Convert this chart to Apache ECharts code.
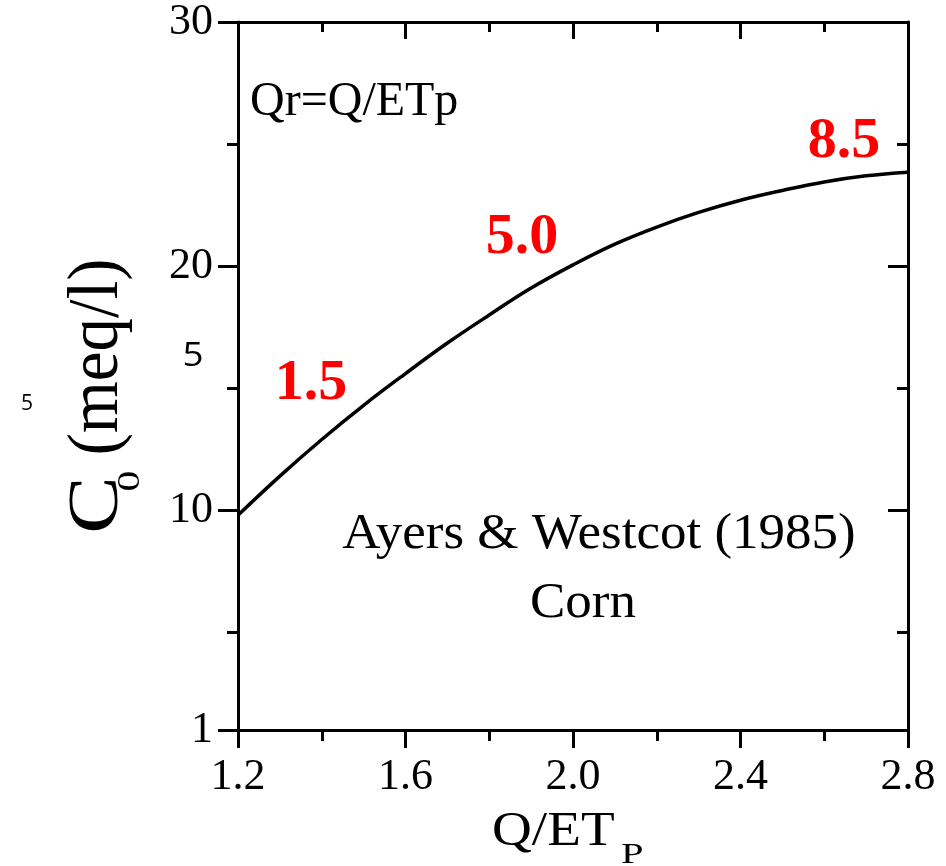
<!DOCTYPE html>
<html>
<head>
<meta charset="utf-8">
<script src="https://cdn.jsdelivr.net/npm/echarts@6/dist/echarts.min.js"></script>
<style>
html,body{margin:0;padding:0;background:#fff;}
#chart{width:946px;height:866px;}
</style>
</head>
<body>
<div id="chart"></div>
<script>
// Data
const qRatio = [1.2, 1.3, 1.4, 1.5, 1.6, 1.7, 1.8, 1.9, 2.0, 2.1, 2.2, 2.3, 2.4, 2.5, 2.6, 2.7, 2.8];
const c0Values = [9.8, 11.4, 12.9, 14.3, 15.6, 16.85, 18.0, 19.1, 20.05, 20.9, 21.6, 22.2, 22.7, 23.1, 23.45, 23.7, 23.85];
const xTickLabels = [1.2, 1.6, 2.0, 2.4, 2.8];
const yTickLabels = [1, 10, 20, 30];
const yMinorTicks = [5, 15, 25];
const curveLabels = ['1.5', '5.0', '8.5'];

const SERIF = "'Liberation Serif', 'Times New Roman', serif";
const SANS = "'Open Sans', 'Noto Sans', sans-serif";
const black = '#000';
const axisLine = {show: true, lineStyle: {color: black, width: 3}};

const chart = echarts.init(document.getElementById('chart'));

const xBase = {
  type: 'value', min: 1.2, max: 2.8, interval: 0.4,
  splitLine: {show: false}, minorSplitLine: {show: false},
  axisLine: axisLine
};
const yBase = {
  type: 'value', min: 1, max: 30,
  splitLine: {show: false}
};

function txt(x, y, text, size, opts) {
  return Object.assign({type: 'text', x: x, y: y,
    style: Object.assign({text: text, fontSize: size, fontFamily: SERIF, fill: black,
      align: 'center', verticalAlign: 'middle'}, (opts && opts.style) || {})},
    (opts && opts.el) || {});
}

chart.setOption({
  animation: false,
  backgroundColor: '#fff',
  grid: {left: 238, right: 38, top: 22, bottom: 136, containLabel: false, outerBoundsMode: 'none'},
  xAxis: [
    Object.assign({}, xBase, {
      position: 'bottom',
      axisTick: {show: true, inside: false, length: 18, lineStyle: {color: black, width: 3}},
      minorTick: {show: true, splitNumber: 2, length: 11, lineStyle: {color: black, width: 3}},
      axisLabel: {
        show: true, customValues: xTickLabels, fontSize: 44, fontFamily: SERIF, color: black, margin: 25,
        formatter: v => Number(v).toFixed(1)
      }
    }),
    Object.assign({}, xBase, {
      position: 'top',
      axisTick: {show: true, inside: true, length: 17, lineStyle: {color: black, width: 3}},
      minorTick: {show: true, splitNumber: 2, length: 10, lineStyle: {color: black, width: 3}},
      axisLabel: {show: false}
    })
  ],
  yAxis: [
    Object.assign({}, yBase, {
      position: 'left', axisLine: axisLine,
      axisTick: {show: true, inside: false, length: 20, customValues: yTickLabels, lineStyle: {color: black, width: 3}},
      axisLabel: {show: true, customValues: yTickLabels, fontSize: 44, fontFamily: SERIF, color: black, margin: 25}
    }),
    Object.assign({}, yBase, {
      position: 'left', axisLine: {show: false},
      axisTick: {show: true, inside: false, length: 11, customValues: yMinorTicks, lineStyle: {color: black, width: 3}},
      axisLabel: {show: false}
    }),
    Object.assign({}, yBase, {
      position: 'right', axisLine: axisLine,
      axisTick: {show: true, inside: true, length: 20, customValues: yTickLabels, lineStyle: {color: black, width: 3}},
      axisLabel: {show: false}
    }),
    Object.assign({}, yBase, {
      position: 'right', axisLine: {show: false},
      axisTick: {show: true, inside: true, length: 11, customValues: yMinorTicks, lineStyle: {color: black, width: 3}},
      axisLabel: {show: false}
    })
  ],
  series: [{
    type: 'line',
    xAxisIndex: 0, yAxisIndex: 0,
    data: qRatio.map((q, i) => [q, c0Values[i]]),
    smooth: 0.4,
    showSymbol: false,
    lineStyle: {color: black, width: 3.5}
  }],
  graphic: [
    // y-axis title: C0 (meq/l), reading bottom-to-top
    txt(98, 505, 'C', 72, {el: {rotation: Math.PI / 2, scaleX: 1.2}}),
    txt(131, 481, '0', 32, {el: {rotation: Math.PI / 2, scaleX: 1.3}}),
    txt(98, 357, '(meq/l)', 72, {el: {rotation: Math.PI / 2, scaleX: 0.93}}),
    // x-axis title: Q/ET_P
    txt(492, 832, 'Q/ET', 48, {style: {align: 'left'}, el: {scaleX: 1.15}}),
    txt(621, 855, 'P', 30, {style: {align: 'left'}, el: {scaleX: 1.35}}),
    // annotations
    txt(250, 102, 'Qr=Q/ETp', 48, {style: {align: 'left'}}),
    txt(311, 384, curveLabels[0], 58, {style: {fontWeight: 'bold', fill: '#ff0000'}}),
    txt(522, 238, curveLabels[1], 58, {style: {fontWeight: 'bold', fill: '#ff0000'}}),
    txt(844, 142, curveLabels[2], 58, {style: {fontWeight: 'bold', fill: '#ff0000'}}),
    txt(599, 535, 'Ayers & Westcot (1985)', 50, {el: {scaleX: 1.06}}),
    txt(583, 604, 'Corn', 50, {el: {scaleX: 1.06}}),
    txt(193, 357, '5', 32, {style: {fontFamily: SANS}, el: {scaleX: 1.15}}),
    txt(27, 404, '5', 21, {style: {fontFamily: SANS}})
  ]
});
</script>
</body>
</html>
